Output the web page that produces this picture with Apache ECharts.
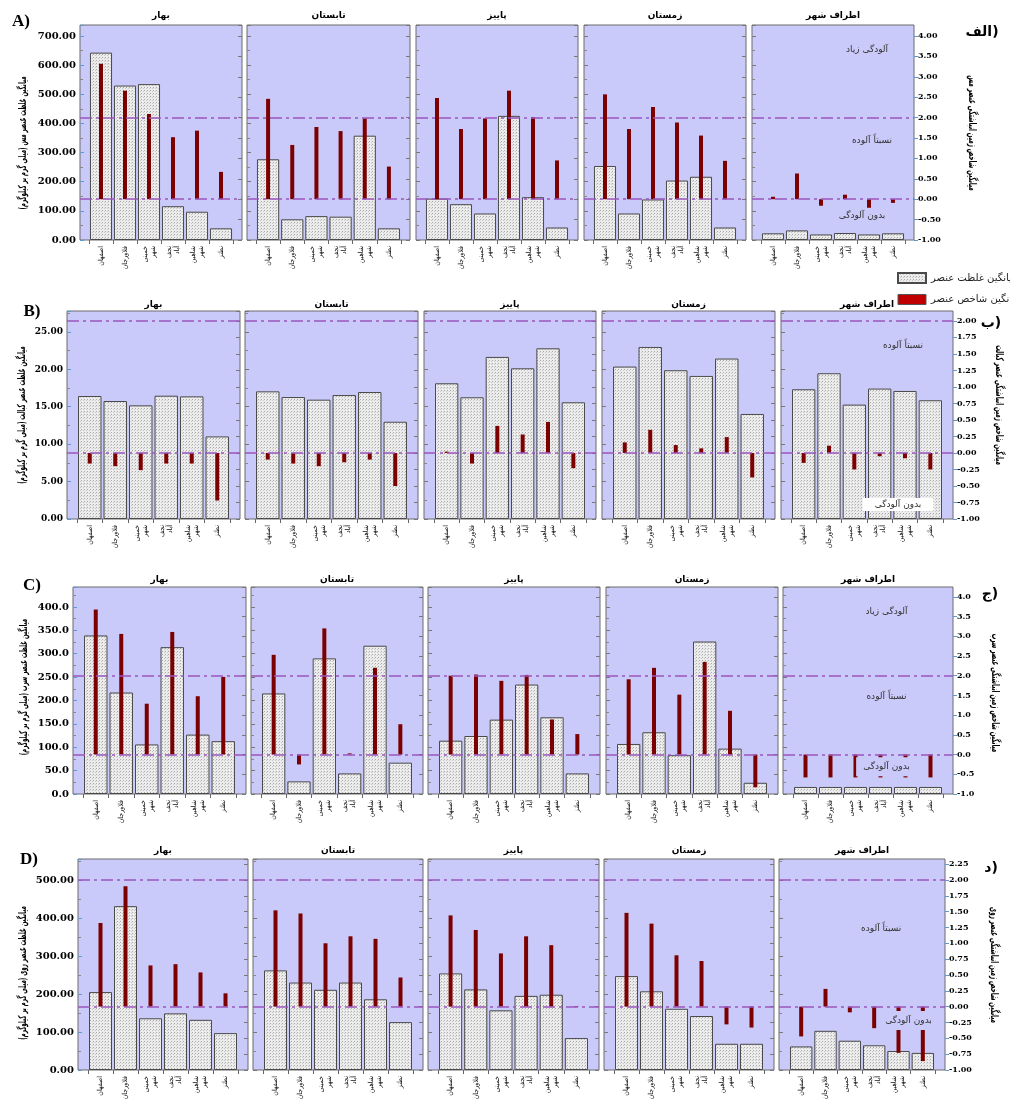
<!DOCTYPE html>
<html>
<head>
<meta charset="utf-8">
<script src="https://cdn.jsdelivr.net/npm/echarts@6/dist/echarts.min.js"></script>
<style>
  html, body { margin: 0; padding: 0; background: #ffffff; }
  #chart { width: 1010px; height: 1104px; }
</style>
</head>
<body>
<div id="chart"></div>
<script>
// Sampling sites (category axis of every panel) and facets (seasons + city outskirts)
const cities = ['اصفهان', 'فلاورجان', 'خمینی شهر', 'نجف آباد', 'شاهین شهر', 'نطنز'];
const seasons = ['بهار', 'تابستان', 'پاییز', 'زمستان', 'اطراف شهر'];

// Igeo class boundaries drawn as dash-dot reference lines
const igeoThresholds = [0, 2];

// Copper: mean concentration (mg/kg) and mean Igeo, one row per facet
const cuConc = [
  [643, 530, 535, 116, 97, 40],
  [277, 71, 82, 80, 358, 40],
  [142, 123, 91, 426, 147, 43],
  [254, 91, 139, 204, 217, 43],
  [23, 33, 19, 24, 19, 23]
];
const cuIgeo = [
  [3.32, 2.66, 2.09, 1.52, 1.68, 0.67],
  [2.46, 1.33, 1.77, 1.67, 1.98, 0.80],
  [2.48, 1.72, 1.98, 2.66, 2.01, 0.95],
  [2.57, 1.72, 2.26, 1.88, 1.56, 0.94],
  [0.06, 0.63, -0.16, 0.11, -0.21, -0.09]
];

// Cobalt
const coConc = [
  [16.43, 15.76, 15.18, 16.47, 16.38, 11.03],
  [17.05, 16.29, 15.94, 16.56, 16.96, 12.99],
  [18.13, 16.26, 21.65, 20.13, 22.80, 15.59],
  [20.36, 22.98, 19.87, 19.11, 21.43, 14.03],
  [17.33, 19.47, 15.28, 17.42, 17.10, 15.86]
];
const coIgeo = [
  [-0.16, -0.20, -0.26, -0.16, -0.16, -0.72],
  [-0.10, -0.16, -0.20, -0.14, -0.10, -0.50],
  [0.02, -0.16, 0.41, 0.28, 0.47, -0.23],
  [0.16, 0.35, 0.12, 0.07, 0.24, -0.37],
  [-0.15, 0.11, -0.25, -0.05, -0.08, -0.25]
];

// Lead
const pbConc = [
  [339, 217, 106, 314, 127, 113],
  [215, 27, 290, 44, 317, 67],
  [114, 124, 159, 234, 164, 44],
  [107, 132, 83, 326, 97, 24],
  [15, 15, 15, 15, 15, 15]
];
const pbIgeo = [
  [3.68, 3.06, 1.29, 3.11, 1.48, 1.97],
  [2.53, -0.25, 3.20, 0.03, 2.20, 0.77],
  [2.00, 2.03, 1.87, 2.02, 0.89, 0.52],
  [1.91, 2.20, 1.52, 2.35, 1.11, -0.83],
  [-0.58, -0.58, -0.58, -0.58, -0.58, -0.58]
];

// Zinc
const znConc = [
  [205, 431, 136, 149, 132, 97],
  [262, 230, 211, 230, 186, 126],
  [254, 212, 157, 195, 198, 84],
  [247, 207, 161, 142, 69, 69],
  [62, 103, 77, 65, 50, 45]
];
const znIgeo = [
  [1.32, 1.90, 0.65, 0.67, 0.54, 0.21],
  [1.52, 1.47, 1.00, 1.11, 1.07, 0.46],
  [1.44, 1.21, 0.84, 1.11, 0.97, 0.01],
  [1.48, 1.31, 0.81, 0.72, -0.28, -0.33],
  [-0.47, 0.28, -0.09, -0.34, -0.73, -0.86]
];

const concName = 'میانگین غلظت عنصر';
const igeoName = 'میانگین شاخص عنصر';

const PANEL_BG = '#cacafa';
const RED = '#7d0000';
const REF_LINE = '#9a55bd';
const FA_FONT = '"DejaVu Sans", sans-serif';
const FA_NARROW = '"DejaVu Sans Condensed", "DejaVu Sans", sans-serif';
const NUM_FONT = '"DejaVu Serif", "Liberation Serif", serif';
const RLM = '\u200F', LRM = '\u200E';

// Layout of the four element blocks
const rows = [
  {
    tag: 'A)', faTag: 'الف)', element: 'مس', conc: cuConc, igeo: cuIgeo,
    perUnit: 140, igeoTop: 4.27, concStep: 100, concDigits: 2, igeoStep: 0.5, igeoDigits: 2,
    top: 25, height: 215, inset: 9, labelSize: 10,
    panels: [[80, 242], [247, 410], [416, 578], [584, 746], [752, 914]],
    titleY: 16, leftTitle: [23, 143], rightTitle: [972, 133], tagPos: [21, 22], faPos: [982, 32],
    notes: [
      { text: 'آلودگی زیاد', igeo: 3.67, cat: 4, dx: -2 },
      { text: 'نسبتاً آلوده', igeo: 1.44, cat: 4, dx: 3 },
      { text: 'بدون آلودگی', igeo: -0.41, cat: 4, dx: -7, bg: PANEL_BG }
    ]
  },
  {
    tag: 'B)', faTag: 'ب)', element: 'کبالت', conc: coConc, igeo: coIgeo,
    perUnit: 8.82, igeoTop: 2.15, concStep: 5, concDigits: 2, igeoStep: 0.25, igeoDigits: 2,
    top: 311, height: 208, inset: 10, labelSize: 9,
    panels: [[67, 240], [245, 418], [424, 596], [602, 775], [781, 953]],
    titleY: 305, leftTitle: [22, 415], rightTitle: [999, 405], tagPos: [32, 312], faPos: [991, 323],
    notes: [
      { text: 'نسبتاً آلوده', igeo: 1.62, cat: 4, dx: -2 },
      { text: 'بدون آلودگی', igeo: -0.78, cat: 4, dx: -7, bg: '#ffffff', pad: [2, 12] }
    ]
  },
  {
    tag: 'C)', faTag: 'ج)', element: 'سرب', conc: pbConc, igeo: pbIgeo,
    perUnit: 84.3, igeoTop: 4.25, concStep: 50, concDigits: 1, igeoStep: 0.5, igeoDigits: 1,
    top: 587, height: 207, inset: 10, labelSize: 10,
    panels: [[73, 246], [251, 423], [428, 600], [606, 778], [783, 953]],
    titleY: 580, leftTitle: [24, 687], rightTitle: [995, 693], tagPos: [32, 586], faPos: [990, 594],
    notes: [
      { text: 'آلودگی زیاد', igeo: 3.62, cat: 3, dx: 6 },
      { text: 'نسبتاً آلوده', igeo: 1.46, cat: 3, dx: 6 },
      { text: 'بدون آلودگی', igeo: -0.31, cat: 3, dx: 6, bg: PANEL_BG, pad: [5, 7] }
    ]
  },
  {
    tag: 'D)', faTag: 'د)', element: 'روی', conc: znConc, igeo: znIgeo,
    perUnit: 166.67, igeoTop: 2.33, concStep: 100, concDigits: 2, igeoStep: 0.25, igeoDigits: 2,
    top: 859, height: 211, inset: 10, labelSize: 10,
    panels: [[78, 248], [253, 423], [428, 599], [604, 774], [779, 945]],
    titleY: 851, leftTitle: [23, 973], rightTitle: [994, 965], tagPos: [29, 860], faPos: [991, 868],
    notes: [
      { text: 'نسبتاً آلوده', igeo: 1.23, cat: 3, dx: 7 },
      { text: 'بدون آلودگی', igeo: -0.22, cat: 4, dx: 10, bg: PANEL_BG, pad: [5, 4] }
    ]
  }
];

// Fine stipple fill used for the concentration bars
function stipple() {
  const c = document.createElement('canvas');
  c.width = 3; c.height = 3;
  const g = c.getContext('2d');
  g.fillStyle = '#ececec';
  g.fillRect(0, 0, 3, 3);
  g.fillStyle = '#a9a9a9';
  g.fillRect(0, 0, 1, 1);
  g.fillStyle = '#c8c8c8';
  g.fillRect(2, 1, 1, 1);
  return c;
}
const barFill = { image: stipple(), repeat: 'repeat' };

const grids = [], xAxes = [], yAxes = [], series = [], graphics = [];

function text(x, y, str, font, rotation, squeeze) {
  graphics.push({
    type: 'text', x: x, y: y, rotation: rotation || 0, scaleX: squeeze || 1, silent: true,
    style: { text: str, font: font, fill: '#000', align: 'center', verticalAlign: 'middle' }
  });
}

rows.forEach(function (row) {
  const concMax = row.perUnit * (row.igeoTop + 1);

  row.panels.forEach(function (span, ci) {
    const x0 = span[0], x1 = span[1];
    const first = ci === 0, last = ci === row.panels.length - 1;

    // Panel frame carrying the two value axes and the Igeo reference lines
    const pg = grids.length;
    grids.push({
      left: x0, top: row.top, width: x1 - x0, height: row.height,
      show: true, backgroundColor: PANEL_BG, borderColor: '#6b6b6b', borderWidth: 1,
      containLabel: false, outerBoundsMode: 'none'
    });
    const pxa = xAxes.length;
    xAxes.push({ gridIndex: pg, type: 'value', min: 0, max: 1, show: false });

    yAxes.push({
      gridIndex: pg, type: 'value', position: 'left', min: 0, max: concMax, interval: row.concStep,
      axisLine: { show: false }, splitLine: { show: false },
      axisTick: { show: true, inside: true, length: 4, lineStyle: { color: first ? '#5b9bd5' : '#777' } },
      minorTick: { show: true, splitNumber: 2, length: 3, lineStyle: { color: '#888' } },
      axisLabel: {
        show: first, showMaxLabel: false, margin: 4,
        fontFamily: NUM_FONT, fontWeight: 'bold', fontSize: row.labelSize, color: '#000',
        formatter: function (v) { return v.toFixed(row.concDigits); }
      }
    });
    const pyr = yAxes.length;
    yAxes.push({
      gridIndex: pg, type: 'value', position: 'right', min: -1, max: row.igeoTop, interval: row.igeoStep,
      axisLine: { show: false }, splitLine: { show: false },
      axisTick: { show: true, inside: !last, length: 4, lineStyle: { color: last ? '#5b9bd5' : '#777' } },
      axisLabel: {
        show: last, showMaxLabel: false, margin: 4,
        fontFamily: NUM_FONT, fontWeight: 'bold', fontSize: 8, color: '#000',
        formatter: function (v) { return v.toFixed(row.igeoDigits); }
      }
    });
    series.push({
      type: 'line', xAxisIndex: pxa, yAxisIndex: pyr, data: [], silent: true,
      markLine: {
        silent: true, symbol: 'none', animation: false,
        label: { show: false },
        lineStyle: { color: REF_LINE, width: 1.5, type: [12, 4, 3, 4] },
        data: igeoThresholds.map(function (v) { return { yAxis: v }; })
      }
    });

    // Inset plotting area holding the bars
    const dg = grids.length;
    grids.push({
      left: x0 + row.inset, top: row.top, width: x1 - x0 - 2 * row.inset, height: row.height,
      show: false, containLabel: false, outerBoundsMode: 'none'
    });
    const xa = xAxes.length;
    xAxes.push({
      gridIndex: dg, type: 'category', data: cities, position: 'bottom',
      axisLine: { show: false },
      axisTick: { show: true, length: 4, lineStyle: { color: '#666' } },
      axisLabel: {
        interval: 0, rotate: 90, margin: 6, hideOverlap: false,
        fontFamily: FA_NARROW, fontSize: 7, color: '#111', lineHeight: 8,
        formatter: function (v) { return v.replace(' ', '\n'); }
      }
    });
    const xb = xAxes.length;
    xAxes.push({ gridIndex: dg, type: 'category', data: cities, show: false });
    const yl = yAxes.length;
    yAxes.push({ gridIndex: dg, type: 'value', min: 0, max: concMax, show: false });
    const yr = yAxes.length;
    yAxes.push({ gridIndex: dg, type: 'value', min: -1, max: row.igeoTop, show: false });

    series.push({
      type: 'bar', name: concName, xAxisIndex: xa, yAxisIndex: yl,
      data: row.conc[ci], barCategoryGap: '8%', silent: true,
      itemStyle: { color: barFill, borderColor: '#4a4a4a', borderWidth: 1 }
    });

    const igeoSeries = {
      type: 'bar', name: igeoName, xAxisIndex: xb, yAxisIndex: yr,
      data: row.igeo[ci], barWidth: 4, silent: true,
      itemStyle: { color: RED }
    };
    if (last) {
      igeoSeries.markPoint = {
        silent: true, symbol: 'rect', symbolSize: 1, animation: false,
        itemStyle: { color: 'rgba(0,0,0,0)' },
        data: row.notes.map(function (n) {
          return {
            coord: [cities[n.cat], n.igeo],
            label: {
              show: true, position: 'inside', formatter: n.text, offset: [n.dx, 0],
              fontFamily: FA_FONT, fontSize: 9, color: '#333',
              backgroundColor: n.bg || 'transparent', padding: n.pad || 0
            }
          };
        })
      };
    }
    series.push(igeoSeries);

    // Facet title
    text((x0 + x1) / 2, row.titleY, seasons[ci], 'bold 9px ' + FA_FONT);
  });

  // Axis titles (set in a narrow face) and block tags
  text(row.leftTitle[0], row.leftTitle[1],
    RLM + 'میانگین غلظت عنصر ' + row.element + ' (میلی گرم بر کیلوگرم)' + RLM,
    'bold 11px ' + FA_FONT, Math.PI / 2, 0.5);
  text(row.rightTitle[0], row.rightTitle[1],
    RLM + 'میانگین شاخص زمین انباشتگی عنصر ' + row.element + RLM,
    'bold 11px ' + FA_FONT, -Math.PI / 2, 0.51);
  text(row.tagPos[0], row.tagPos[1], row.tag, 'bold 17px "Liberation Serif", serif');
  text(row.faPos[0], row.faPos[1], LRM + row.faTag, 'bold 14px ' + FA_FONT);
});

const chart = echarts.init(document.getElementById('chart'), null, { renderer: 'canvas' });
chart.setOption({
  animation: false,
  backgroundColor: '#ffffff',
  grid: grids,
  xAxis: xAxes,
  yAxis: yAxes,
  series: series,
  legend: {
    orient: 'vertical', left: 892, top: 267, itemWidth: 28, itemHeight: 10, itemGap: 10,
    icon: 'rect', selectedMode: false,
    textStyle: { fontFamily: FA_FONT, fontSize: 10, color: '#222', lineHeight: 10 },
    data: [
      { name: concName },
      { name: igeoName, itemStyle: { color: '#c00000', borderColor: '#555', borderWidth: 1 } }
    ]
  },
  graphic: { elements: graphics }
});
</script>
</body>
</html>
